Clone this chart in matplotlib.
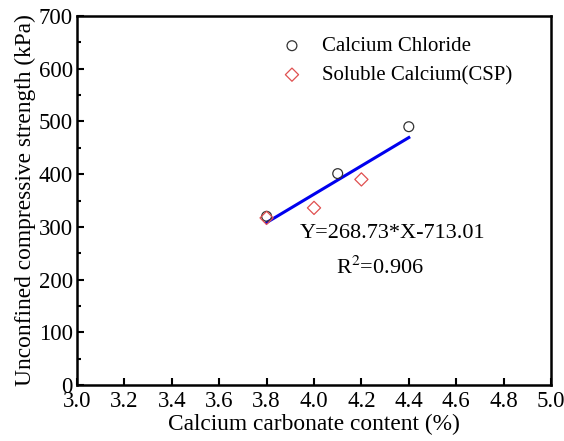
import numpy as np
import matplotlib.pyplot as plt
from matplotlib.ticker import MultipleLocator

plt.rcParams["font.family"] = ["Liberation Serif", "DejaVu Serif"]
plt.rcParams["mathtext.fontset"] = "stix"

chloride_x = [3.8, 4.1, 4.4]
chloride_y = [320, 401, 490]
csp_x = [3.8, 4.0, 4.2]
csp_y = [317, 336, 390]
fit_slope = 268.73
fit_intercept = -713.01
fit_range = [3.8, 4.4]


def main() -> None:
    fig = plt.figure(figsize=(5.64, 4.41), dpi=100)
    ax = fig.add_axes([77 / 564, 1 - 385 / 441, 474 / 564, 369 / 441])

    ax.scatter(chloride_x, chloride_y, s=50, marker="o", facecolors="none",
               edgecolors="#333333", linewidths=0.9, label="Calcium Chloride", zorder=3)
    ax.scatter(csp_x, csp_y, s=45, marker="D", facecolors="none",
               edgecolors="#e05050", linewidths=0.9, label="Soluble Calcium(CSP)", zorder=3)
    fx = np.array(fit_range)
    ax.plot(fx, fit_slope * fx + fit_intercept, color="#0000ee", lw=2.2, zorder=2)

    ax.text(3.94, 288, "Y=268.73*X-713.01", fontsize=16, va="center", ha="left")
    ax.text(4.28, 222, r"R$^2$=0.906", fontsize=16, va="center", ha="center")

    ax.set_xlim(3.0, 5.0)
    ax.set_ylim(0, 700)
    ax.xaxis.set_major_locator(MultipleLocator(0.2))
    ax.yaxis.set_major_locator(MultipleLocator(100))
    ax.yaxis.set_minor_locator(MultipleLocator(50))
    ax.xaxis.set_major_formatter(plt.FuncFormatter(lambda v, _: f"{v:.1f}"))
    ax.tick_params(which="both", direction="in", labelsize=16.5, width=1.5, top=False, right=False)
    ax.tick_params(which="major", length=5)
    ax.tick_params(which="minor", length=3)
    ax.tick_params(axis="x", pad=4)
    ax.tick_params(axis="y", pad=3)
    for spine in ax.spines.values():
        spine.set_linewidth(1.8)

    ax.set_xlabel("Calcium carbonate content (%)", fontsize=16.8, labelpad=2)
    ax.set_ylabel("Unconfined compressive strength (kPa)", fontsize=16.8, labelpad=2)

    ax.legend(loc="upper left", bbox_to_anchor=(0.37, 0.995), frameon=False, fontsize=15,
              handletextpad=0.45, labelspacing=0.45, scatterpoints=1)

    fig.savefig("out.png", dpi=100)


if __name__ == "__main__":
    main()
